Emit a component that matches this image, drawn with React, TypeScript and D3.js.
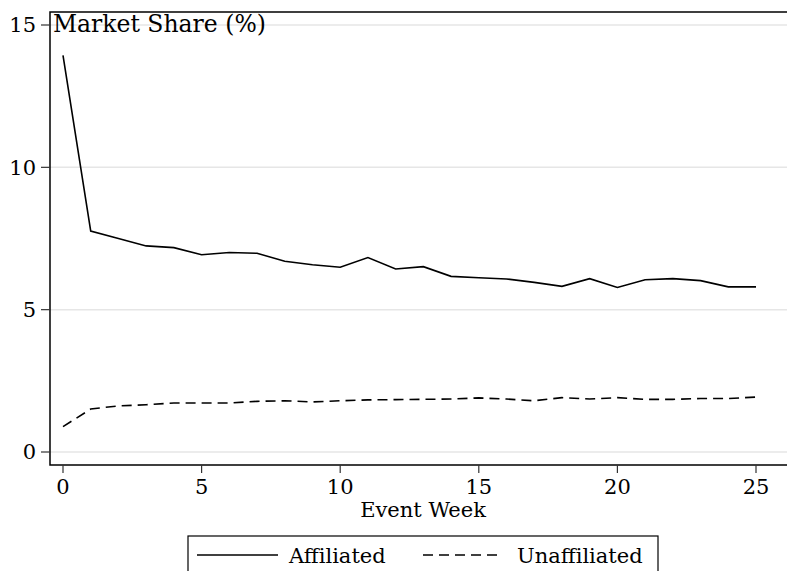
import React, { useEffect, useRef } from "react";
import * as d3 from "d3";

const weeks = d3.range(0, 26);
const affiliated = [
  13.93, 7.76, 7.5, 7.24, 7.18, 6.93, 7.01, 6.98, 6.7, 6.58, 6.49, 6.83, 6.43,
  6.51, 6.17, 6.12, 6.08, 5.96, 5.82, 6.09, 5.78, 6.05, 6.09, 6.02, 5.8, 5.8,
];
const unaffiliated = [
  0.89, 1.51, 1.62, 1.66, 1.72, 1.72, 1.72, 1.78, 1.8, 1.76, 1.8, 1.83, 1.84,
  1.85, 1.86, 1.9, 1.86, 1.8, 1.91, 1.86, 1.91, 1.85, 1.85, 1.88, 1.88, 1.93,
];
const xTicks = [0, 5, 10, 15, 20, 25];
const yTicks = [0, 5, 10, 15];

const width = 787;
const height = 571;
const font = "'DejaVu Serif', serif";
const fontSize = 21;

const App = () => {
  const ref = useRef(null);

  useEffect(() => {
    const svg = d3.select(ref.current);
    svg.selectAll("*").remove();

    const x = d3.scaleLinear().domain([0, 25]).range([63, 756]);
    const y = d3.scaleLinear().domain([0, 15]).range([452, 25]);

    // grid
    svg.append("g")
      .selectAll("line")
      .data(yTicks)
      .join("line")
      .attr("x1", 50)
      .attr("x2", width)
      .attr("y1", d => y(d))
      .attr("y2", d => y(d))
      .attr("stroke", "#e6e6e6")
      .attr("stroke-width", 1.5);

    // frame
    svg.append("path")
      .attr("d", `M${width},12H50V465H${width}`)
      .attr("fill", "none")
      .attr("stroke", "#000")
      .attr("stroke-width", 1.5);

    // y axis
    const yAxis = svg.append("g").attr("font-family", font).attr("font-size", fontSize);
    yAxis.selectAll("line")
      .data(yTicks)
      .join("line")
      .attr("x1", 41)
      .attr("x2", 50)
      .attr("y1", d => y(d))
      .attr("y2", d => y(d))
      .attr("stroke", "#333")
      .attr("stroke-width", 1.2);
    yAxis.selectAll("text")
      .data(yTicks)
      .join("text")
      .attr("x", 36)
      .attr("y", d => y(d))
      .attr("dy", "0.35em")
      .attr("text-anchor", "end")
      .text(d => d);

    // x axis
    const xAxis = svg.append("g").attr("font-family", font).attr("font-size", fontSize);
    xAxis.selectAll("line")
      .data(xTicks)
      .join("line")
      .attr("x1", d => x(d))
      .attr("x2", d => x(d))
      .attr("y1", 465)
      .attr("y2", 473)
      .attr("stroke", "#333")
      .attr("stroke-width", 1.2);
    xAxis.selectAll("text")
      .data(xTicks)
      .join("text")
      .attr("x", d => x(d))
      .attr("y", 494)
      .attr("text-anchor", "middle")
      .text(d => d);

    svg.append("text")
      .attr("x", 423)
      .attr("y", 517)
      .attr("text-anchor", "middle")
      .attr("font-family", font)
      .attr("font-size", fontSize)
      .text("Event Week");

    svg.append("text")
      .attr("x", 53)
      .attr("y", 32)
      .attr("font-family", font)
      .attr("font-size", 23.5)
      .text("Market Share (%)");

    const line = d3.line<number>().x((d, i) => x(weeks[i])).y(d => y(d));

    svg.append("path")
      .attr("d", line(affiliated))
      .attr("fill", "none")
      .attr("stroke", "#000")
      .attr("stroke-width", 1.6);

    svg.append("path")
      .attr("d", line(unaffiliated))
      .attr("fill", "none")
      .attr("stroke", "#000")
      .attr("stroke-width", 1.6)
      .attr("stroke-dasharray", "10,6");

    // legend
    const lg = svg.append("g").attr("font-family", font).attr("font-size", fontSize);
    lg.append("rect")
      .attr("x", 188)
      .attr("y", 536)
      .attr("width", 470)
      .attr("height", 60)
      .attr("fill", "#fff")
      .attr("stroke", "#000")
      .attr("stroke-width", 1.2);
    lg.append("line")
      .attr("x1", 197).attr("x2", 278).attr("y1", 555).attr("y2", 555)
      .attr("stroke", "#000").attr("stroke-width", 1.6);
    lg.append("text").attr("x", 289).attr("y", 563).text("Affiliated");
    lg.append("line")
      .attr("x1", 423).attr("x2", 502).attr("y1", 555).attr("y2", 555)
      .attr("stroke", "#000").attr("stroke-width", 1.6)
      .attr("stroke-dasharray", "10,6");
    lg.append("text").attr("x", 517).attr("y", 563).text("Unaffiliated");
  }, []);

  return (
    <svg
      ref={ref}
      width={width}
      height={height}
      style={{ position: "absolute", left: 0, top: 0, background: "#fff" }}
    />
  );
};

export default App;
